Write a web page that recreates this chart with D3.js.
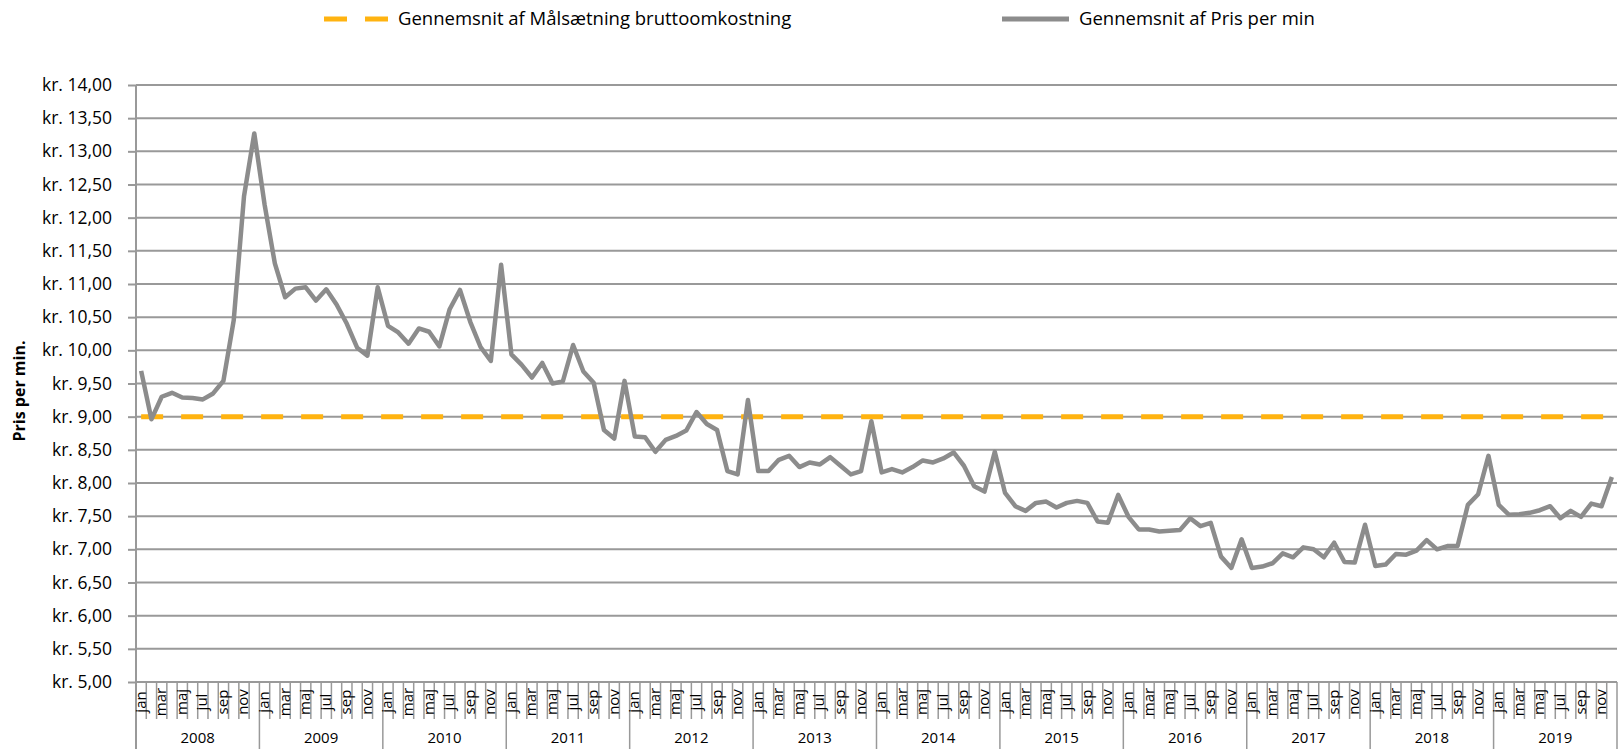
<!DOCTYPE html>
<html>
<head>
<meta charset="utf-8">
<script src="https://cdn.jsdelivr.net/npm/d3@7"></script>
<style>
  body { margin: 0; background: #fff; }
  svg { display: block; font-family: 'Open Sans', 'Noto Sans', sans-serif; }
</style>
</head>
<body>
<svg id="chart" width="1623" height="749"></svg>
<script>
// data
const years = ['2008', '2009', '2010', '2011', '2012', '2013', '2014', '2015', '2016', '2017', '2018', '2019']
const months = ['jan', 'feb', 'mar', 'apr', 'maj', 'jun', 'jul', 'aug', 'sep', 'okt', 'nov', 'dec']
const yTicks = [5, 5.5, 6, 6.5, 7, 7.5, 8, 8.5, 9, 9.5, 10, 10.5, 11, 11.5, 12, 12.5, 13, 13.5, 14]
const targetCost = 9.00
const pricePerMin = [
  9.69, 8.96, 9.30, 9.36, 9.29, 9.28, 9.26, 9.35, 9.54, 10.45, 12.32, 13.27, // 2008
  12.20, 11.31, 10.80, 10.93, 10.95, 10.75, 10.92, 10.69, 10.40, 10.04, 9.92, 10.95, // 2009
  10.37, 10.27, 10.10, 10.33, 10.28, 10.06, 10.62, 10.91, 10.43, 10.05, 9.84, 11.29, // 2010
  9.94, 9.78, 9.59, 9.81, 9.50, 9.53, 10.08, 9.68, 9.51, 8.80, 8.67, 9.54, // 2011
  8.70, 8.69, 8.47, 8.65, 8.71, 8.79, 9.07, 8.89, 8.80, 8.18, 8.13, 9.25, // 2012
  8.18, 8.18, 8.35, 8.41, 8.24, 8.31, 8.28, 8.39, 8.26, 8.13, 8.18, 8.93, // 2013
  8.16, 8.21, 8.16, 8.24, 8.34, 8.31, 8.37, 8.46, 8.26, 7.95, 7.87, 8.47, // 2014
  7.85, 7.65, 7.58, 7.70, 7.72, 7.63, 7.70, 7.73, 7.70, 7.42, 7.40, 7.82, // 2015
  7.49, 7.30, 7.30, 7.27, 7.28, 7.29, 7.47, 7.35, 7.40, 6.89, 6.72, 7.15, // 2016
  6.72, 6.74, 6.79, 6.94, 6.88, 7.03, 7.00, 6.88, 7.10, 6.81, 6.80, 7.37, // 2017
  6.75, 6.77, 6.93, 6.92, 6.98, 7.14, 7.00, 7.05, 7.05, 7.67, 7.83, 8.41, // 2018
  7.67, 7.52, 7.53, 7.55, 7.59, 7.65, 7.47, 7.58, 7.49, 7.69, 7.65, 8.09  // 2019
]

const svg = d3.select('#chart')
const plotLeft = 136
const plotRight = 1617
const plotTop = 85
const plotBottom = 682
const gridColor = '#999'

const cats = d3.range(pricePerMin.length)
const x = d3.scaleBand().domain(cats).range([plotLeft, plotRight]).padding(0)
const y = d3.scaleLinear().domain([5, 14]).range([plotBottom, plotTop])
const cx = i => x(i) + x.bandwidth() / 2
const fmt = v => 'kr. ' + v.toFixed(2).replace('.', ',')

// gridlines
svg.append('g')
  .selectAll('line')
  .data(yTicks.filter(d => d > 5))
  .enter()
  .append('line')
  .attr('x1', plotLeft)
  .attr('x2', plotRight)
  .attr('y1', d => y(d))
  .attr('y2', d => y(d))
  .attr('stroke', gridColor)
  .attr('stroke-width', 2)

// y axis
const yAxis = d3.axisLeft(y).tickValues(yTicks).tickFormat(fmt).tickSize(8).tickPadding(16)
const yg = svg.append('g').attr('transform', `translate(${plotLeft},0)`).call(yAxis)
yg.select('.domain').remove()
yg.selectAll('.tick line').attr('stroke', gridColor).attr('stroke-width', 2)
yg.selectAll('.tick text')
  .attr('fill', '#000')
  .style('font-size', '17.5px')
  .style('font-family', "'Open Sans', sans-serif")
svg.append('line')
  .attr('x1', plotLeft).attr('x2', plotLeft)
  .attr('y1', plotTop).attr('y2', 749)
  .attr('stroke', gridColor).attr('stroke-width', 2)

// y title
svg.append('text')
  .attr('transform', 'translate(25,391) rotate(-90)')
  .attr('text-anchor', 'middle')
  .style('font-size', '16px')
  .style('font-weight', 'bold')
  .text('Pris per min.')

// x axis: baseline, month ticks, year separators
svg.append('line')
  .attr('x1', plotLeft).attr('x2', plotRight)
  .attr('y1', plotBottom).attr('y2', plotBottom)
  .attr('stroke', gridColor).attr('stroke-width', 2)

const xg = svg.append('g')
xg.selectAll('line.m')
  .data(cats.filter(i => i > 0 && i % 12 !== 0))
  .enter()
  .append('line')
  .attr('class', 'm')
  .attr('x1', i => x(i)).attr('x2', i => x(i))
  .attr('y1', plotBottom).attr('y2', 719)
  .attr('stroke', gridColor).attr('stroke-width', 1.5)

xg.selectAll('line.yr')
  .data(d3.range(1, years.length + 1))
  .enter()
  .append('line')
  .attr('class', 'yr')
  .attr('x1', k => k < years.length ? x(k * 12) : plotRight)
  .attr('x2', k => k < years.length ? x(k * 12) : plotRight)
  .attr('y1', plotBottom).attr('y2', 749)
  .attr('stroke', gridColor).attr('stroke-width', 1.5)

xg.selectAll('text.m')
  .data(cats.filter(i => i % 2 === 0))
  .enter()
  .append('text')
  .attr('class', 'm')
  .attr('transform', i => `translate(${cx(i) + 4.5},702) rotate(-90)`)
  .attr('text-anchor', 'middle')
  .style('font-size', '15px')
  .text(i => months[i % 12])

xg.selectAll('text.yr')
  .data(years)
  .enter()
  .append('text')
  .attr('class', 'yr')
  .attr('x', (d, k) => (x(k * 12) + (k < years.length - 1 ? x((k + 1) * 12) : plotRight)) / 2)
  .attr('y', 743)
  .attr('text-anchor', 'middle')
  .style('font-size', '15px')
  .text(d => d)

// target line (dashed)
const line = d3.line().x((d, i) => cx(i)).y(d => y(d))
svg.append('path')
  .datum(cats.map(() => targetCost))
  .attr('d', line)
  .attr('fill', 'none')
  .attr('stroke', '#ffb310')
  .attr('stroke-width', 5)
  .attr('stroke-dasharray', '22,18')

// price per minute
svg.append('path')
  .datum(pricePerMin)
  .attr('d', line)
  .attr('fill', 'none')
  .attr('stroke', '#8c8c8c')
  .attr('stroke-width', 4.5)
  .attr('stroke-linejoin', 'round')

// legend
const legend = svg.append('g')
legend.append('line')
  .attr('x1', 324).attr('x2', 389).attr('y1', 19).attr('y2', 19)
  .attr('stroke', '#ffb310').attr('stroke-width', 5)
  .attr('stroke-dasharray', '23,18')
legend.append('text')
  .attr('x', 398).attr('y', 25)
  .style('font-size', '18.5px')
  .text('Gennemsnit af Målsætning bruttoomkostning')
legend.append('line')
  .attr('x1', 1002).attr('x2', 1069).attr('y1', 19).attr('y2', 19)
  .attr('stroke', '#8c8c8c').attr('stroke-width', 5)
legend.append('text')
  .attr('x', 1079).attr('y', 25)
  .style('font-size', '18.5px')
  .text('Gennemsnit af Pris per min')
</script>
</body>
</html>
